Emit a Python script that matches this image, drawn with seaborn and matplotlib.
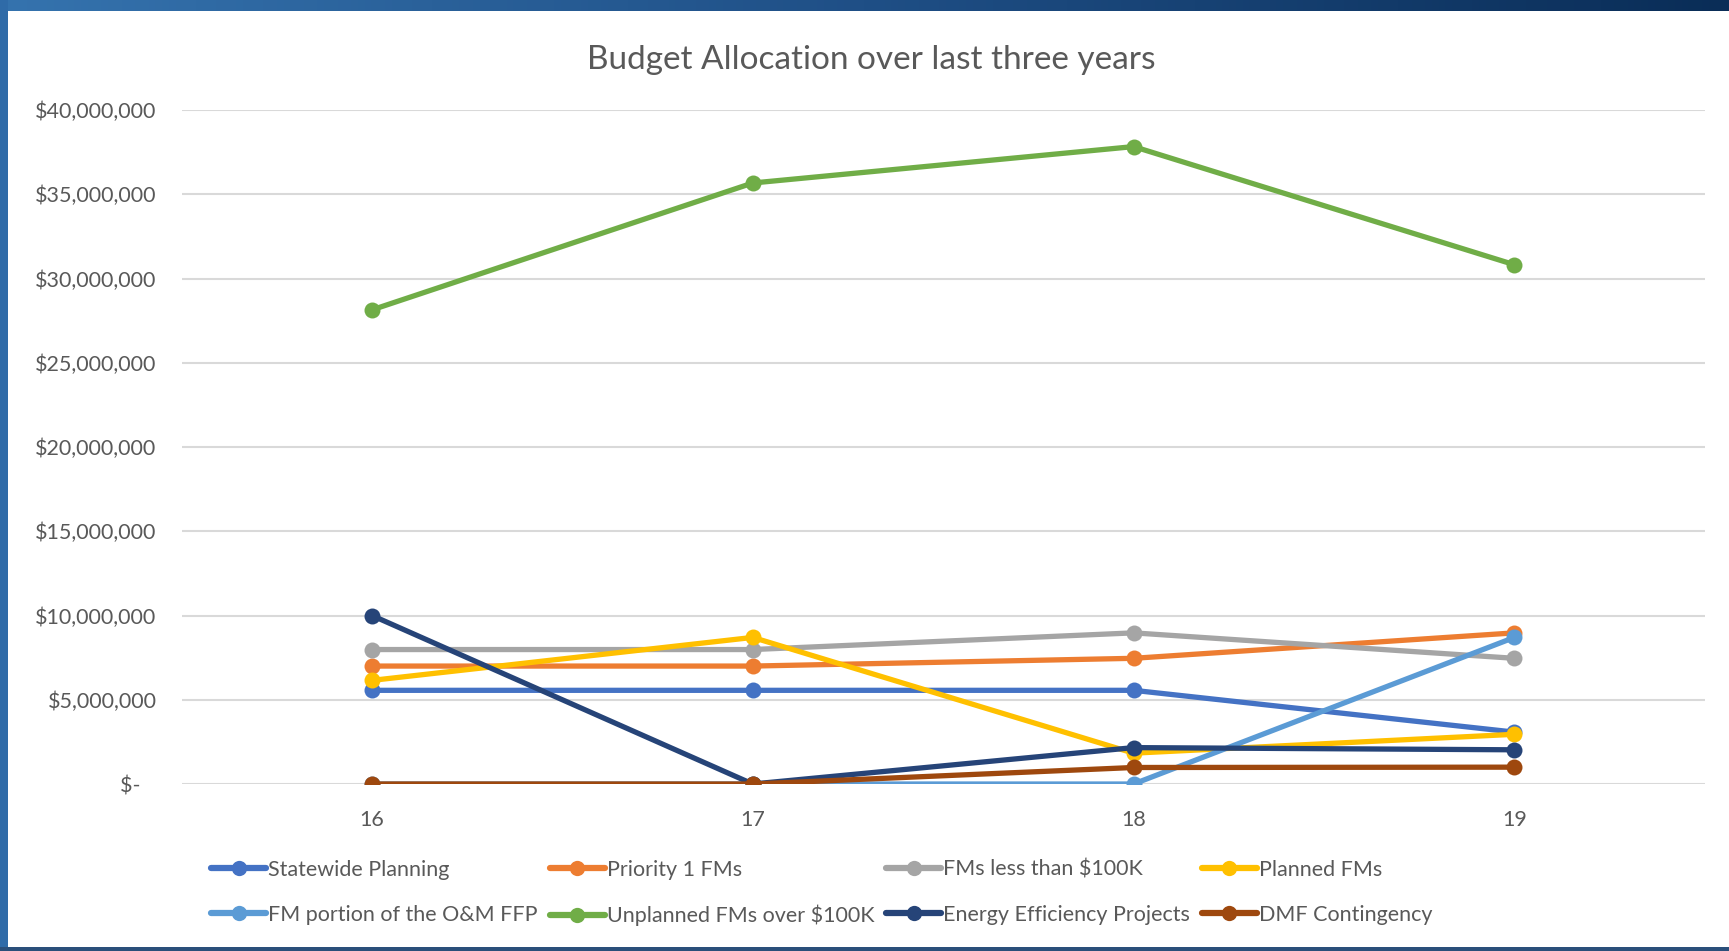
import numpy as np
import pandas as pd
import matplotlib
matplotlib.use('Agg')
import matplotlib.pyplot as plt
import seaborn as sns
from matplotlib.ticker import FuncFormatter
from matplotlib.lines import Line2D
from matplotlib.colors import LinearSegmentedColormap

# Veriler
years = ['16', '17', '18', '19']
series_names = ['Statewide Planning', 'Priority 1 FMs', 'FMs less than $100K', 'Planned FMs',
                'FM portion of the O&M FFP', 'Unplanned FMs over $100K',
                'Energy Efficiency Projects', 'DMF Contingency']
statewide_planning = [5.56e6, 5.56e6, 5.56e6, 3.08e6]
priority_1 = [7.0e6, 7.0e6, 7.46e6, 8.97e6]
fms_less_100k = [7.98e6, 7.98e6, 8.97e6, 7.46e6]
planned_fms = [6.15e6, 8.7e6, 1.83e6, 2.95e6]
fm_portion_om = [0.0, 0.0, 0.0, 8.7e6]
unplanned_over_100k = [28.14e6, 35.67e6, 37.83e6, 30.82e6]
energy_efficiency = [10.0e6, 0.0, 2.16e6, 2.03e6]
dmf_contingency = [0.0, 0.0, 0.98e6, 1.0e6]

colors = ['#4472C4', '#ED7D31', '#A5A5A5', '#FFC000',
          '#5B9BD5', '#70AD47', '#264478', '#9E480E']

all_values = [statewide_planning, priority_1, fms_less_100k, planned_fms,
              fm_portion_om, unplanned_over_100k, energy_efficiency, dmf_contingency]

rows = []
for name, vals in zip(series_names, all_values):
    for i, v in enumerate(vals):
        rows.append({'series': name, 'pos': i, 'value': v})
df = pd.DataFrame(rows)

sns.set_style('white')
plt.rcParams['font.family'] = ['Lato', 'DejaVu Sans']
text_color = '#595959'

fig = plt.figure(figsize=(17.29, 9.51), dpi=100)
fig.patch.set_facecolor('white')

# Çerçeve (slayt kenarları)
top = fig.add_axes([0, 1 - 11 / 951, 1, 11 / 951])
grad = np.linspace(0, 1, 256).reshape(1, -1)
cmap = LinearSegmentedColormap.from_list('bar', ['#3573AE', '#1F4F86', '#0A2D57'])
top.imshow(grad, aspect='auto', cmap=cmap)
top.axis('off')
left = fig.add_axes([0, 0, 8 / 1729, 1])
left.set_facecolor('#2F6BA8')
left.set_xticks([]); left.set_yticks([])
for s in left.spines.values():
    s.set_visible(False)
bottom = fig.add_axes([0, 0, 1, 4 / 951])
bottom.set_facecolor('#2A4F7A')
bottom.set_xticks([]); bottom.set_yticks([])
for s in bottom.spines.values():
    s.set_visible(False)

ax = fig.add_axes([0.105, 0.1756, 0.881, 0.7087])
sns.lineplot(data=df, x='pos', y='value', hue='series', hue_order=series_names,
             palette=colors, marker='o', markersize=11.5, markeredgewidth=0,
             linewidth=3.8, legend=False, ax=ax, zorder=3)

ax.set_xlim(-0.5, 3.5)
ax.set_ylim(0, 40e6)
ax.set_yticks(np.arange(0, 40e6 + 1, 5e6))
ax.set_xticks(range(len(years)))
ax.set_xticklabels(years)
ax.yaxis.set_major_formatter(FuncFormatter(lambda v, p: '$-   ' if v == 0 else f'${v:,.0f}'))
ax.grid(axis='y', color='#D9D9D9', linewidth=1.5, zorder=0)
ax.grid(axis='x', visible=False)
for s in ax.spines.values():
    s.set_visible(False)
ax.tick_params(axis='both', length=0, labelsize=15.5, labelcolor=text_color)
ax.tick_params(axis='y', pad=18)
ax.tick_params(axis='x', pad=19)
ax.set_xlabel('')
ax.set_ylabel('')

fig.text(0.504, 0.937, 'Budget Allocation over last three years', ha='center', va='center',
         fontsize=24, color=text_color)

# Lejant (satır sırası için yeniden düzenle)
handles = [Line2D([0], [0], color=c, linewidth=4.5, marker='o', markersize=11, markeredgewidth=0)
           for c in colors]
order = [0, 4, 1, 5, 2, 6, 3, 7]
leg = fig.legend([handles[i] for i in order], [series_names[i] for i in order],
                 loc='center left', bbox_to_anchor=(0.111, 0.061), ncol=4, frameon=False,
                 fontsize=15.5, handlelength=2.55, handletextpad=0.1, columnspacing=0.55,
                 labelspacing=1.15, labelcolor=text_color)

fig.savefig('out.png', dpi=100, facecolor='white')
